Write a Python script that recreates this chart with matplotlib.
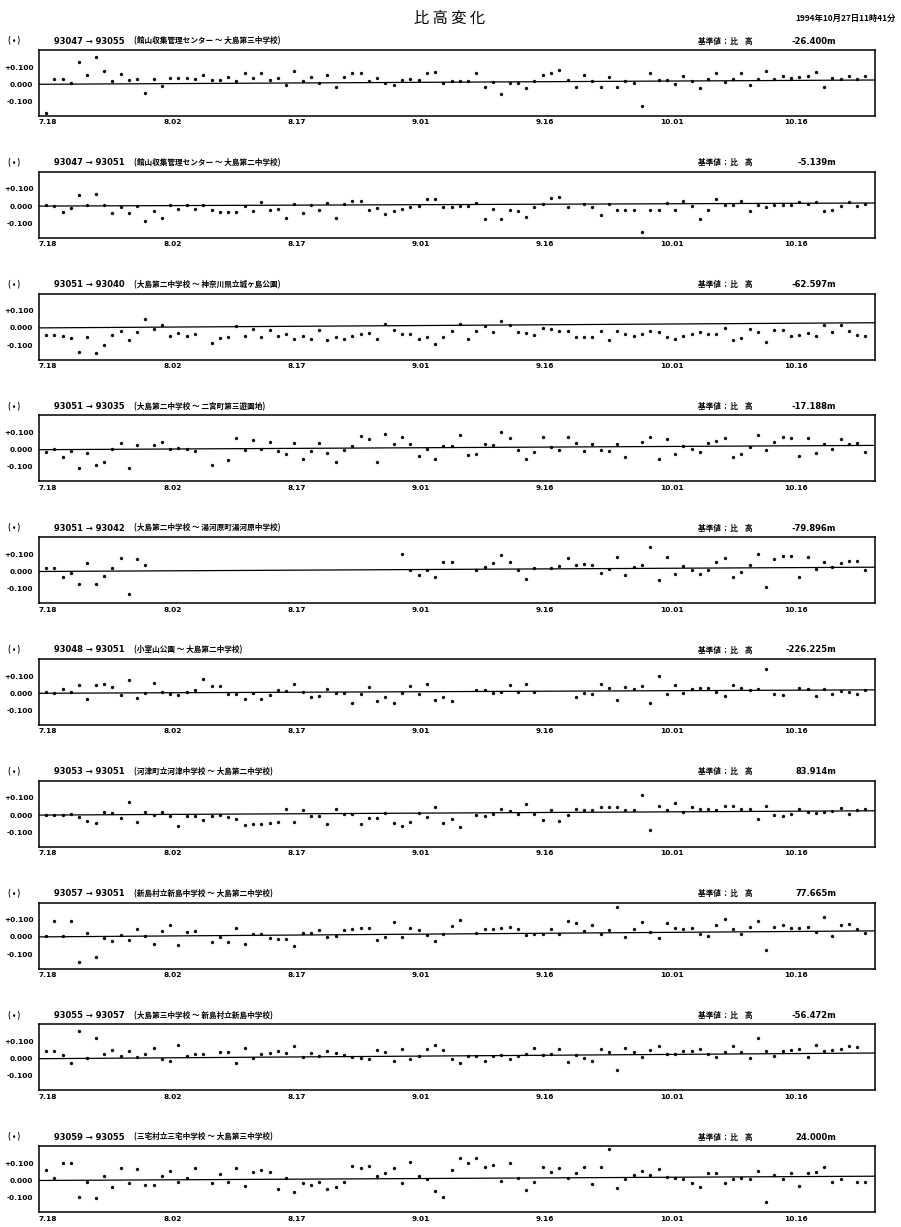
import numpy as np
import matplotlib
matplotlib.use("Agg")
import matplotlib.pyplot as plt

plt.rcParams['font.family'] = ['Noto Sans CJK JP', 'DejaVu Sans']

nan = np.nan

# height-difference changes (m), one value per day starting 7.18
p1_vals = [
    -0.167, 0.033, 0.033, 0.008, 0.131, 0.055, 0.157, 0.075, 0.018, 0.059,
    0.025, 0.031, -0.053, 0.033, -0.010, 0.035, 0.037, 0.039, 0.029, 0.053,
    0.027, 0.025, 0.043, 0.020, 0.063, 0.035, 0.065, 0.024, 0.035, -0.002,
    0.075, 0.022, 0.043, 0.008, 0.057, -0.014, 0.043, 0.065, 0.065, 0.020,
    0.039, 0.008, -0.002, 0.024, 0.033, 0.025, 0.065, 0.071, 0.008, 0.022,
    0.020, 0.022, 0.065, -0.014, 0.012, -0.055, 0.010, 0.008, -0.020, 0.022,
    0.057, 0.063, 0.082, 0.025, -0.014, 0.057, 0.022, -0.014, 0.043, -0.014,
    0.022, 0.008, -0.125, 0.067, 0.027, 0.027, 0.004, 0.051, 0.020, -0.024,
    0.029, 0.065, 0.016, 0.033, 0.065, -0.002, 0.033, 0.075, 0.029, 0.051,
    0.039, 0.045, 0.047, 0.071, -0.018, 0.037, 0.029, 0.051, 0.031, 0.049,
]
p2_vals = [
    0.006, 0.000, -0.033, -0.010, 0.063, 0.006, 0.071, 0.004, -0.042, -0.006,
    -0.038, 0.002, -0.088, -0.031, -0.067, 0.004, -0.019, 0.008, -0.015, 0.004,
    -0.025, -0.033, -0.035, -0.035, 0.000, -0.031, 0.021, -0.021, -0.017, -0.067,
    0.015, -0.038, 0.008, -0.023, 0.017, -0.067, 0.015, 0.031, 0.029, -0.025,
    -0.013, -0.044, -0.029, -0.015, -0.004, 0.002, 0.042, 0.044, -0.004, -0.004,
    0.002, 0.000, 0.019, -0.073, -0.017, -0.073, -0.021, -0.027, -0.063, -0.004,
    0.010, 0.046, 0.052, -0.006, nan, 0.010, -0.006, -0.054, 0.010, -0.021,
    -0.021, -0.021, -0.150, -0.021, -0.021, 0.017, -0.025, 0.027, 0.000, -0.073,
    -0.021, 0.040, 0.006, 0.004, 0.029, -0.029, 0.006, -0.004, 0.006, 0.004,
    0.006, 0.021, 0.010, 0.025, -0.029, -0.021, 0.000, 0.021, 0.000, 0.015,
]
p3_vals = [
    -0.041, -0.043, -0.047, -0.061, -0.139, -0.053, -0.145, -0.098, -0.041, -0.016,
    -0.073, -0.022, 0.051, -0.006, 0.016, -0.047, -0.027, -0.047, -0.035, nan,
    -0.090, -0.057, -0.053, 0.012, -0.047, -0.006, -0.053, -0.010, -0.049, -0.035,
    -0.065, -0.049, -0.065, -0.010, -0.073, -0.053, -0.063, -0.047, -0.037, -0.027,
    -0.067, 0.020, -0.010, -0.037, -0.033, -0.067, -0.053, -0.096, -0.053, -0.020,
    0.020, -0.063, -0.020, 0.010, -0.024, 0.043, 0.014, -0.024, -0.027, -0.043,
    0.002, -0.008, -0.018, -0.018, -0.053, -0.053, -0.053, -0.020, -0.073, -0.016,
    -0.037, -0.049, -0.035, -0.018, -0.024, -0.051, -0.063, -0.045, -0.037, -0.022,
    -0.033, -0.035, 0.000, -0.073, -0.057, -0.006, -0.022, -0.080, -0.010, -0.010,
    -0.047, -0.041, -0.029, -0.049, 0.018, -0.022, 0.014, -0.016, -0.041, -0.047,
]
p4_vals = [
    -0.012, 0.006, -0.040, -0.010, -0.104, -0.022, -0.090, -0.070, 0.006, 0.038,
    -0.108, 0.030, nan, 0.030, 0.046, 0.004, 0.008, 0.006, -0.006, nan,
    -0.092, nan, -0.058, 0.066, -0.002, 0.054, 0.006, 0.044, -0.010, -0.028,
    0.040, -0.056, -0.010, 0.038, -0.022, -0.070, 0.000, 0.024, 0.080, 0.062,
    -0.072, 0.094, 0.036, 0.074, 0.034, -0.036, 0.004, -0.054, 0.020, 0.020,
    0.086, -0.030, -0.024, 0.036, 0.030, 0.104, 0.066, -0.004, -0.056, -0.016,
    0.072, 0.016, 0.000, 0.072, 0.038, -0.008, 0.034, -0.004, -0.010, 0.036,
    -0.042, nan, 0.044, 0.076, -0.056, 0.062, -0.024, 0.020, 0.004, -0.016,
    0.040, 0.048, 0.068, -0.040, -0.028, 0.018, 0.084, -0.004, 0.044, 0.072,
    0.066, -0.036, 0.066, -0.020, 0.032, 0.004, 0.062, 0.032, 0.040, -0.012,
]
p5_vals = [
    0.018, 0.018, -0.033, -0.009, -0.073, 0.051, -0.073, -0.029, 0.022, 0.078,
    -0.133, 0.073, 0.040,
    nan, nan, nan, nan, nan, nan, nan, nan, nan, nan,
    nan, nan, nan, nan, nan, nan, nan, nan, nan, nan,
    nan, nan, nan, nan, nan, nan, nan, nan, nan, nan,
    0.104, 0.009, -0.022, 0.009, -0.033, 0.056, 0.056, nan, nan, 0.011,
    0.029, 0.049, 0.098, 0.058, 0.011, -0.042, 0.020, nan, 0.018, 0.031,
    0.078, 0.040, 0.044, 0.036, -0.011, 0.016, 0.084, -0.018, 0.029, 0.038,
    0.144, -0.049, 0.082, -0.016, 0.033, 0.007, -0.016, 0.009, 0.058, 0.078,
    -0.031, -0.002, 0.036, 0.100, -0.091, 0.071, 0.089, 0.089, -0.031, 0.082,
    0.013, 0.056, 0.029, 0.049, 0.062, 0.062, 0.007,
]
p6_vals = [
    0.010, 0.004, 0.027, 0.010, 0.051, -0.031, 0.051, 0.055, 0.035, -0.012,
    0.076, -0.027, 0.000, 0.061, 0.008, -0.002, -0.010, 0.010, 0.018, 0.086,
    0.045, 0.045, -0.006, -0.004, -0.031, 0.004, -0.031, -0.010, 0.022, 0.014,
    0.053, 0.010, -0.024, -0.018, 0.024, 0.004, 0.000, -0.057, -0.002, 0.035,
    -0.047, -0.020, -0.057, 0.000, 0.045, -0.006, 0.055, -0.037, -0.024, -0.043,
    nan, nan, 0.020, 0.020, 0.004, 0.010, 0.047, 0.010, 0.053, 0.008,
    nan, nan, nan, nan, -0.024, 0.000, -0.002, 0.055, 0.033, -0.037,
    0.037, 0.024, 0.043, -0.055, 0.098, -0.004, 0.047, 0.004, 0.027, 0.033,
    0.033, 0.006, -0.014, 0.051, 0.029, 0.020, 0.027, 0.143, -0.004, -0.010,
    nan, 0.029, 0.024, -0.014, 0.027, -0.006, 0.014, 0.010, -0.006, 0.020,
]
p7_vals = [
    0.000, 0.000, -0.002, 0.006, -0.010, -0.035, -0.045, 0.020, 0.012, -0.018,
    0.078, -0.041, 0.016, 0.000, 0.018, -0.004, -0.061, -0.006, -0.006, -0.029,
    -0.006, 0.000, -0.014, -0.020, -0.059, -0.051, -0.051, -0.045, -0.041, 0.033,
    -0.039, 0.027, -0.008, -0.008, -0.051, 0.033, 0.004, 0.004, -0.051, -0.018,
    -0.016, 0.014, -0.049, -0.063, -0.043, 0.012, -0.014, 0.047, -0.049, -0.025,
    -0.071, nan, 0.002, -0.004, 0.008, 0.035, 0.024, 0.008, 0.063, 0.008,
    -0.029, 0.031, -0.033, 0.000, 0.037, 0.031, 0.029, 0.049, 0.045, 0.045,
    0.029, 0.031, 0.116, -0.088, 0.053, 0.029, 0.071, 0.018, 0.049, 0.037,
    0.035, 0.031, 0.051, 0.051, 0.037, 0.035, -0.025, 0.055, 0.000, -0.006,
    0.004, 0.033, 0.016, 0.014, 0.020, 0.024, 0.041, 0.004, 0.027, 0.035,
]
p8_vals = [
    0.008, 0.094, 0.008, 0.094, -0.146, 0.025, -0.115, -0.006, -0.025, 0.013,
    -0.021, 0.046, 0.008, -0.042, 0.033, 0.071, -0.048, 0.031, 0.033, nan,
    -0.029, 0.000, -0.027, 0.054, -0.042, 0.015, 0.017, -0.006, -0.013, -0.013,
    -0.054, 0.021, 0.021, 0.042, -0.002, 0.008, 0.038, 0.046, 0.052, 0.052,
    -0.017, 0.000, 0.085, -0.002, 0.050, 0.040, 0.013, -0.023, 0.019, 0.065,
    0.098, nan, 0.023, 0.048, 0.048, 0.050, 0.060, 0.044, 0.010, 0.017,
    0.017, 0.046, 0.015, 0.090, 0.083, 0.033, 0.071, 0.015, 0.040, 0.173,
    -0.002, 0.044, 0.088, 0.029, -0.006, 0.081, 0.052, 0.046, 0.052, 0.019,
    0.004, 0.071, 0.102, 0.046, 0.015, 0.056, 0.092, -0.079, 0.058, 0.071,
    0.050, 0.052, 0.060, 0.029, 0.115, 0.006, 0.069, 0.077, 0.048, 0.025,
]
p9_vals = [
    0.044, 0.046, 0.020, -0.024, 0.160, 0.006, 0.120, 0.026, 0.052, 0.014,
    0.044, 0.012, 0.028, 0.064, 0.000, -0.014, 0.078, 0.018, 0.026, 0.026,
    nan, 0.038, 0.040, -0.026, 0.064, 0.004, 0.026, 0.034, 0.044, 0.036,
    0.072, 0.012, 0.032, 0.018, 0.044, 0.032, 0.020, 0.012, 0.006, 0.000,
    0.052, 0.038, -0.014, 0.056, -0.002, 0.014, 0.056, 0.080, 0.052, -0.004,
    -0.028, 0.018, 0.018, -0.012, 0.016, 0.022, -0.004, 0.018, 0.030, 0.064,
    0.020, 0.030, 0.056, -0.022, 0.022, 0.004, -0.014, 0.058, 0.040, -0.066,
    0.064, 0.038, 0.008, 0.050, 0.072, 0.026, 0.030, 0.042, 0.042, 0.058,
    0.028, 0.010, 0.040, 0.072, 0.040, 0.006, 0.120, 0.044, 0.016, 0.044,
    0.048, 0.056, 0.012, 0.080, 0.046, 0.048, 0.056, 0.072, 0.070,
]
p10_vals = [
    0.062, 0.013, 0.102, 0.102, -0.096, -0.011, -0.102, 0.028, -0.038, 0.070,
    -0.015, 0.068, -0.026, -0.028, 0.026, 0.053, -0.006, 0.015, 0.074, nan,
    -0.017, 0.038, -0.006, 0.074, -0.032, 0.051, 0.060, 0.049, -0.049, 0.015,
    -0.070, -0.015, -0.026, -0.006, -0.047, -0.036, -0.009, 0.085, 0.072, 0.085,
    0.028, 0.045, 0.072, -0.017, 0.106, 0.028, 0.009, -0.064, -0.098, 0.064,
    0.134, 0.102, 0.132, 0.079, 0.089, -0.002, 0.100, 0.015, -0.057, -0.011,
    0.079, 0.047, 0.074, 0.015, 0.043, 0.079, -0.019, 0.081, 0.181, -0.043,
    0.006, 0.034, 0.057, 0.034, 0.066, 0.021, 0.015, 0.006, -0.017, -0.038,
    0.043, 0.043, -0.013, 0.011, 0.015, 0.011, 0.055, -0.123, 0.032, 0.006,
    0.043, -0.032, 0.043, 0.047, 0.081, -0.006, 0.006, nan, -0.006, -0.006,
]

routes = ["93047 → 93055", "93047 → 93051", "93051 → 93040", "93051 → 93035",
          "93051 → 93042", "93048 → 93051", "93053 → 93051", "93057 → 93051",
          "93055 → 93057", "93059 → 93055"]
sites = ["(館山収集管理センター ～ 大島第三中学校)",
         "(館山収集管理センター ～ 大島第二中学校)",
         "(大島第二中学校 ～ 神奈川県立城ヶ島公園)",
         "(大島第二中学校 ～ 二宮町第三遊園地)",
         "(大島第二中学校 ～ 湯河原町湯河原中学校)",
         "(小室山公園 ～ 大島第二中学校)",
         "(河津町立河津中学校 ～ 大島第二中学校)",
         "(新島村立新島中学校 ～ 大島第二中学校)",
         "(大島第三中学校 ～ 新島村立新島中学校)",
         "(三宅村立三宅中学校 ～ 大島第三中学校)"]
base_heights = ["-26.400m", "-5.139m", "-62.597m", "-17.188m", "-79.896m",
                "-226.225m", "83.914m", "77.665m", "-56.472m", "24.000m"]
trend_end = [0.025, 0.018, 0.03, 0.025, 0.025, 0.02, 0.025, 0.035, 0.033, 0.025]

tick_days = [0, 15, 30, 45, 60, 75, 90]
tick_labels = ["7.18", "8.02", "8.17", "9.01", "9.16", "10.01", "10.16"]
y_ticks = [0.1, 0.0, -0.1]
y_labels = ["+0.100", "0.000", "-0.100"]

panels = [p1_vals, p2_vals, p3_vals, p4_vals, p5_vals,
          p6_vals, p7_vals, p8_vals, p9_vals, p10_vals]

W, H = 901, 1227
fig = plt.figure(figsize=(W / 100, H / 100), dpi=100)
fig.patch.set_facecolor("white")

fig.text(450 / W, 1 - 18 / H, "比 高 変 化", ha="center", va="center", fontsize=11)
fig.text(896 / W, 1 - 18 / H, "1994年10月27日11時41分", ha="right", va="center",
         fontsize=6, fontweight="bold")

for k, vals in enumerate(panels):
    top = 50 + k * 121.8
    ax = fig.add_axes([39 / W, 1 - (top + 66) / H, 836 / W, 66 / H])
    v = np.array(vals, dtype=float)
    x = np.arange(len(v)) + 0.85
    ax.plot(x, v, "o", ms=2.1, color="black", mec="black", mew=0.3)
    ax.plot([0, 101], [0, trend_end[k]], color="black", lw=0.9)
    ax.set_xlim(0, 101)
    ax.set_ylim(-0.185, 0.2)
    ax.set_yticks(y_ticks)
    ax.set_yticklabels(y_labels, fontfamily="DejaVu Sans", fontweight="bold")
    ax.set_xticks(tick_days)
    ax.set_xticklabels(tick_labels, ha="left", fontfamily="DejaVu Sans", fontweight="bold")
    ax.tick_params(length=0, labelsize=5.3)
    ax.tick_params(axis="y", pad=4)
    ax.tick_params(axis="x", pad=2.5)
    for s in ax.spines.values():
        s.set_linewidth(1.1)

    hy = 1 - (top - 9) / H
    fig.text(8 / W, hy, "( • )", ha="left", va="center", fontsize=5.5, fontweight="bold")
    fig.text(54 / W, hy, routes[k], ha="left", va="center", fontsize=6, fontweight="bold",
             family=["DejaVu Sans", "Noto Sans CJK JP"])
    fig.text(134 / W, hy, sites[k], ha="left", va="center", fontsize=5.5, fontweight="bold")
    fig.text(698 / W, hy, "基準値  :  比    高", ha="left", va="center", fontsize=5.5,
             fontweight="bold")
    fig.text(836 / W, hy, base_heights[k], ha="right", va="center", fontsize=6,
             fontweight="bold", family=["DejaVu Sans"])

fig.savefig("out.png", dpi=100)
